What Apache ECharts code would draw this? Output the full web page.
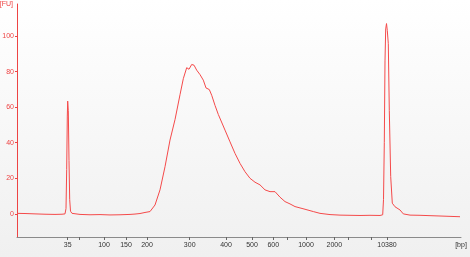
<!DOCTYPE html>
<html><head><meta charset="utf-8">
<script src="https://cdn.jsdelivr.net/npm/echarts@6/dist/echarts.min.js"></script>
<style>html,body{margin:0;padding:0;background:#fff}#c{width:470px;height:257px}</style>
</head><body><div id="c"></div>
<script>
// Migration time (s) and fluorescence (FU)
const migrationTime = [
  40.0, 41.6, 43.6, 45.6, 47.6, 49.0, 49.6, 49.8, 49.94, 50.06, 50.14, 50.26, 50.4, 50.54, 50.7, 51.0,
  52.6, 54.6, 56.6, 58.6, 60.6, 62.6, 63.6, 64.6, 65.6, 66.6, 67.6, 68.6, 69.6, 70.6, 71.6, 72.6,
  73.26, 73.94, 74.4, 74.94, 75.4, 75.94, 76.6, 77.26, 77.8, 78.46, 78.94, 79.6, 80.26, 81.6, 82.6, 83.6,
  84.6, 85.6, 86.6, 87.6, 88.6, 89.6, 90.6, 91.6, 92.6, 93.6, 94.6, 95.6, 97.6, 99.26, 100.6, 102.6,
  104.6, 106.6, 108.6, 110.6, 112.6, 113.14, 113.3, 113.46, 113.6, 113.74, 113.9, 114.06, 114.26,
  114.46, 114.74, 115.06, 115.6, 116.0, 116.6, 117.26, 118.6, 120.6, 122.6, 124.6, 126.6, 128.6
];
const fluorescence = [
  0.3, 0.2, 0.0, -0.2, -0.3, -0.2, 0.0, 3, 25, 55, 63.4, 58, 30, 8, 1.5, 0.3,
  -0.3, -0.5, -0.4, -0.6, -0.5, -0.3, -0.1, 0.2, 0.8, 1.3, 5, 13.5, 26.5, 41.5, 53, 67,
  76, 82.2, 81.3, 84.0, 83.6, 80.8, 78.3, 75.2, 70.8, 69.9, 66.7, 61.0, 55.9, 47.1, 40.5, 34.0,
  28.4, 23.7, 20.0, 17.8, 16.3, 13.5, 12.5, 12.5, 9.4, 6.9, 5.6, 4.1, 2.6, 1.3, 0.3, -0.4,
  -0.7, -0.8, -0.9, -0.8, -0.9, -0.5, 8, 40, 86, 104, 107, 103, 95.7,
  58, 21, 6, 4, 3.5, 2.2, 0.0, -0.7, -0.8, -1.0, -1.2, -1.4, -1.6
];
// Ladder sizes (bp) and the migration times where they sit on the axis
const ladderTimes = [50.14, 52.4, 57.4, 61.8, 66.0, 74.54, 81.8, 87.0, 91.26, 94.14, 97.8, 103.46, 106.34, 110.94, 114.0];
const ladderLabels = ['35', '', '100', '150', '200', '300', '400', '500', '600', '', '1000', '2000', '', '', '10380'];
const yTickValues = [0, 20, 40, 60, 80, 100];

const chart = echarts.init(document.getElementById('c'), null, {renderer: 'canvas'});
const font = 'Liberation Sans';
chart.setOption({
  animation: false,
  backgroundColor: new echarts.graphic.LinearGradient(0, 0, 0, 1, [
    {offset: 0, color: '#ffffff'}, {offset: 1, color: '#f0f0f0'}
  ]),
  grid: {left: 17, right: 9, top: 4, bottom: 20, outerBoundsMode: 'none', containLabel: false},
  xAxis: {
    type: 'value', min: 40, max: 128.8,
    name: '[bp]', nameLocation: 'end', nameGap: 0,
    nameTextStyle: {align: 'center', verticalAlign: 'top', padding: [5, 0, 0, 0], color: '#333', fontSize: 7, fontFamily: font},
    axisLine: {onZero: false, lineStyle: {color: '#8a8a8a', width: 1}},
    axisTick: {customValues: ladderTimes, length: 3, lineStyle: {color: '#666'}},
    axisLabel: {
      customValues: ladderTimes, margin: 5, fontSize: 7, color: '#333', fontFamily: font,
      formatter: v => {
        let best = 0;
        ladderTimes.forEach((t, i) => { if (Math.abs(t - v) < Math.abs(ladderTimes[best] - v)) best = i; });
        return ladderLabels[best];
      }
    },
    splitLine: {show: false}
  },
  yAxis: {
    type: 'value', min: -13, max: 118,
    name: '[FU]', nameLocation: 'end', nameGap: 0,
    nameTextStyle: {align: 'right', verticalAlign: 'middle', padding: [0, 4, 0, 0], color: '#ee4444', fontSize: 7, fontFamily: font},
    axisLine: {show: true, onZero: false, lineStyle: {color: '#ee4444', width: 1}},
    axisTick: {show: true, customValues: yTickValues, length: 2, lineStyle: {color: '#ee4444'}},
    axisLabel: {customValues: yTickValues, margin: 3, fontSize: 7, color: '#ee4444', fontFamily: font},
    splitLine: {show: false}
  },
  series: [{
    type: 'line',
    data: migrationTime.map((t, i) => [t, fluorescence[i]]),
    showSymbol: false,
    smooth: false,
    lineStyle: {color: '#f54a4a', width: 1},
    itemStyle: {color: '#f54a4a'}
  }]
});
</script>
</body></html>
